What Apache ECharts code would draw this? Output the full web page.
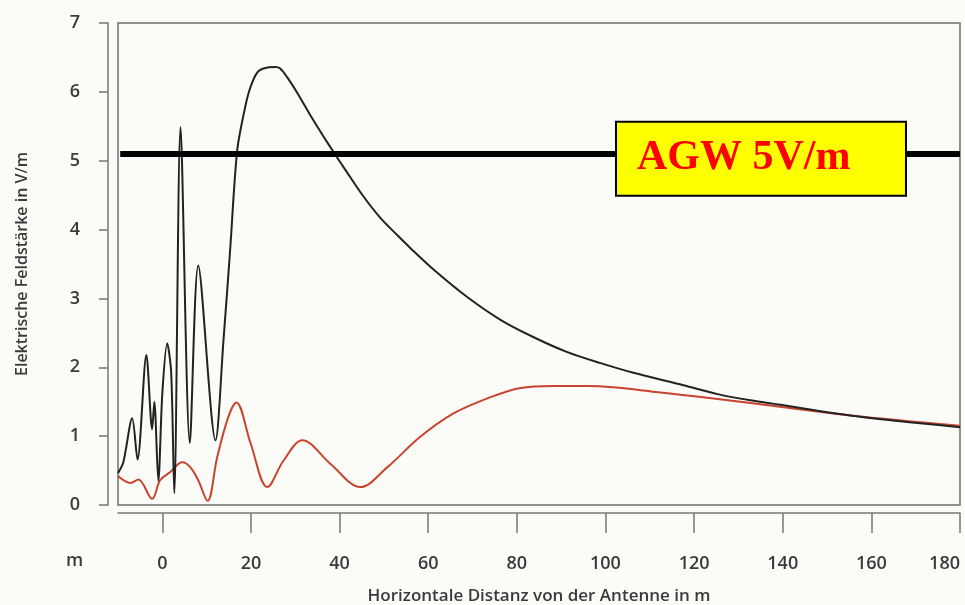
<!DOCTYPE html>
<html>
<head>
<meta charset="utf-8">
<script src="https://cdn.jsdelivr.net/npm/echarts@6/dist/echarts.min.js"></script>
<style>
  html, body { margin: 0; padding: 0; background: #fbfbf8; }
  #chart { width: 965px; height: 605px; }
</style>
</head>
<body>
<div id="chart"></div>
<script>
// Abstand von der Antenne (m) und Feldstärke (V/m), schwarze Kurve
const blackX = [-10, -8.8, -6.8, -5.6, -3.6, -2.3, -1.8, -0.9, 0, 1.1, 2.0, 2.7, 4.1, 6.2, 8.1, 12.0, 13.8, 15.3, 16.9, 18.7, 19.9, 21.4, 22.8, 25.5, 26.6, 28.2, 30.5, 33.4, 36.3, 38.6, 41.8, 45.4, 49.2, 53, 56, 61.2, 68.8, 76.3, 83.7, 91.4, 98.9, 106.3, 117.6, 125.3, 132.7, 140.2, 147.9, 155.3, 162.8, 170.4, 180];
const blackY = [0.46, 0.62, 1.26, 0.66, 2.18, 1.1, 1.5, 0.35, 1.62, 2.35, 1.92, 0.17, 5.49, 0.9, 3.48, 0.94, 2.39, 3.7, 5.15, 5.78, 6.07, 6.28, 6.34, 6.36, 6.34, 6.21, 5.98, 5.66, 5.36, 5.13, 4.82, 4.48, 4.17, 3.92, 3.73, 3.42, 3.02, 2.69, 2.44, 2.22, 2.06, 1.92, 1.74, 1.61, 1.52, 1.45, 1.37, 1.3, 1.24, 1.19, 1.13];

// rote Kurve
const redX = [-10, -7.2, -5.4, -2.3, -0.5, 1.8, 4.5, 6.3, 8.1, 10.2, 12.4, 14.9, 16.7, 19.9, 23.7, 27.4, 31.6, 37.9, 44.7, 50.8, 58.2, 65.7, 73.4, 80.8, 88.3, 95.9, 101.8, 110.2, 116.9, 125.3, 140.2, 155.3, 180];
const redY = [0.42, 0.32, 0.37, 0.09, 0.36, 0.48, 0.62, 0.55, 0.36, 0.06, 0.7, 1.28, 1.49, 0.9, 0.26, 0.65, 0.94, 0.6, 0.26, 0.55, 0.99, 1.33, 1.55, 1.7, 1.73, 1.73, 1.71, 1.65, 1.6, 1.54, 1.42, 1.3, 1.15];

const xTicks = [0, 20, 40, 60, 80, 100, 120, 140, 160, 180];
const agwLevel = 5.1;
const agwText = 'AGW 5V/m';

const zip = (xs, ys) => xs.map((x, i) => [x, ys[i]]);

const textColor = '#3a3a3a';
const axisColor = '#777';
const labelFont = 'Open Sans';

let myChart = echarts.init(document.getElementById('chart'));
let option = {
    backgroundColor: '#fbfbf8',
    animation: false,
    grid: {
        left: 118,
        right: 5,
        top: 23,
        bottom: 100,
        containLabel: false,
        outerBoundsMode: 'none',
        show: true,
        borderColor: '#6f6f6f',
        borderWidth: 1.5
    },
    xAxis: {
        type: 'value',
        min: -10,
        max: 180,
        offset: 8,
        splitLine: { show: false },
        axisLine: { show: true, onZero: false, lineStyle: { color: axisColor, width: 1.5 } },
        axisTick: { show: true, length: 20, customValues: xTicks, lineStyle: { color: axisColor, width: 1.5 } },
        axisLabel: {
            customValues: xTicks,
            alignMaxLabel: 'right',
            margin: 42,
            fontSize: 18,
            fontWeight: 600,
            fontFamily: labelFont,
            color: textColor
        },
        name: 'Horizontale Distanz von der Antenne in m',
        nameLocation: 'middle',
        nameGap: 75,
        nameTextStyle: { fontSize: 17, fontWeight: 600, fontFamily: labelFont, color: textColor }
    },
    yAxis: {
        type: 'value',
        min: 0,
        max: 7,
        interval: 1,
        offset: 10,
        splitLine: { show: false },
        axisLine: { show: true, onZero: false, lineStyle: { color: axisColor, width: 1.5 } },
        axisTick: { show: true, length: 9, lineStyle: { color: axisColor, width: 1.5 } },
        axisLabel: {
            margin: 28,
            fontSize: 18,
            fontWeight: 600,
            fontFamily: labelFont,
            color: textColor,
            padding: [0, 0, 11, 0]
        },
        name: 'Elektrische Feldstärke in V/m',
        nameLocation: 'middle',
        nameGap: 78,
        nameRotate: 90,
        nameTextStyle: { fontSize: 16, fontWeight: 600, fontFamily: labelFont, color: textColor }
    },
    graphic: [
        {
            type: 'text',
            left: 66,
            top: 552,
            style: { text: 'm', fontSize: 18, fontWeight: 600, fontFamily: labelFont, fill: textColor }
        }
    ],
    series: [
        {
            name: 'rot',
            type: 'line',
            z: 2,
            data: zip(redX, redY),
            smooth: 0.35,
            symbol: 'none',
            lineStyle: { color: '#c9442e', width: 2 }
        },
        {
            name: 'schwarz',
            type: 'line',
            z: 3,
            data: zip(blackX, blackY),
            smooth: 0.3,
            symbol: 'none',
            lineStyle: { color: '#222', width: 2 }
        },
        {
            name: 'AGW',
            type: 'line',
            z: 4,
            data: [],
            markLine: {
                silent: true,
                symbol: 'none',
                label: { show: false },
                lineStyle: { color: '#000', width: 6, type: 'solid' },
                data: [[{ coord: [-9.5, agwLevel] }, { coord: [180, agwLevel] }]]
            }
        },
        {
            name: 'AGW Box',
            type: 'line',
            z: 6,
            data: [],
            markPoint: {
                silent: true,
                data: [
                    {
                        coord: [102.6, agwLevel - 0.07],
                        symbol: 'circle',
                        symbolSize: 1,
                        itemStyle: { color: 'rgba(0,0,0,0)' },
                        label: {
                            show: true,
                            position: 'inside',
                            formatter: agwText,
                            backgroundColor: '#ffff00',
                            borderColor: '#000',
                            borderWidth: 2,
                            width: 267,
                            height: 70,
                            lineHeight: 70,
                            padding: [1, 1, 1, 20],
                            align: 'left',
                            fontFamily: 'Liberation Serif',
                            fontWeight: 'bold',
                            fontSize: 42,
                            color: '#ff0000'
                        }
                    }
                ]
            }
        }
    ]
};
window.onresize = myChart.resize;
myChart.setOption(option);
</script>
</body>
</html>
